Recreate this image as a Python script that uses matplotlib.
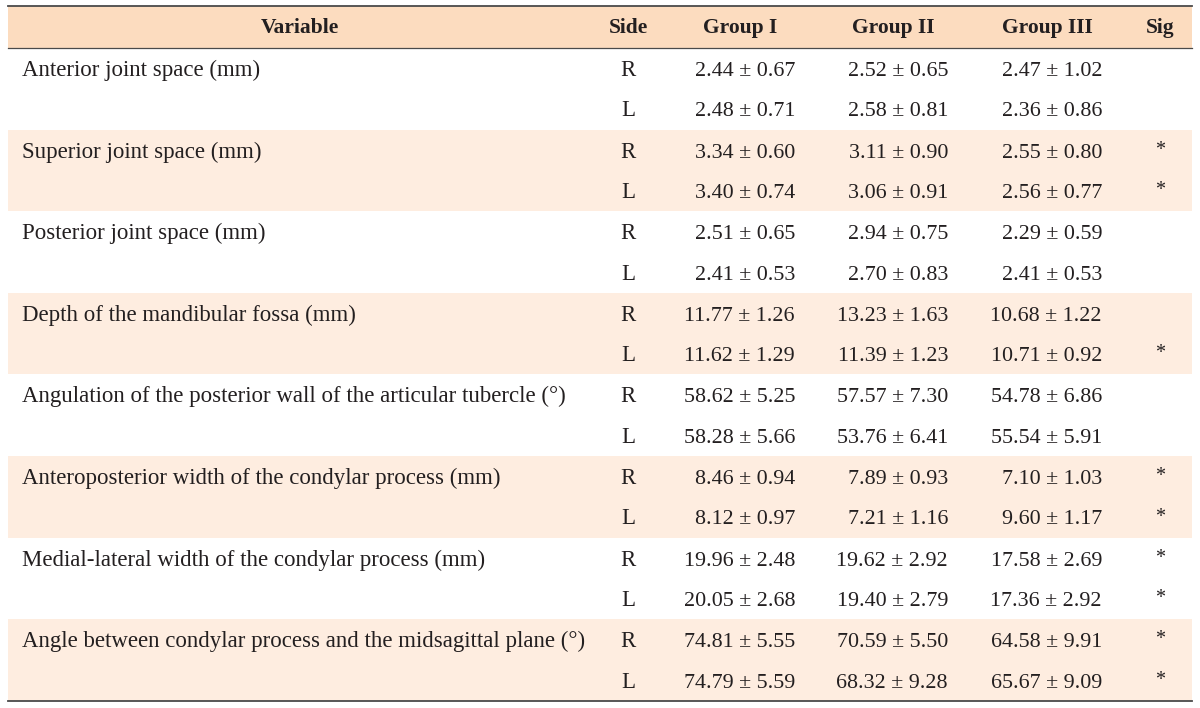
import matplotlib.pyplot as plt
from matplotlib.patches import Rectangle

# data
variables = [
    "Anterior joint space (mm)",
    "Superior joint space (mm)",
    "Posterior joint space (mm)",
    "Depth of the mandibular fossa (mm)",
    "Angulation of the posterior wall of the articular tubercle (°)",
    "Anteroposterior width of the condylar process (mm)",
    "Medial-lateral width of the condylar process (mm)",
    "Angle between condylar process and the midsagittal plane (°)",
]
sides = ["R", "L"]
headers = ["Variable", "Side", "Group I", "Group II", "Group III", "Sig"]

g1_mean = [2.44, 2.48, 3.34, 3.40, 2.51, 2.41, 11.77, 11.62, 58.62, 58.28, 8.46, 8.12, 19.96, 20.05, 74.81, 74.79]
g1_sd = [0.67, 0.71, 0.60, 0.74, 0.65, 0.53, 1.26, 1.29, 5.25, 5.66, 0.94, 0.97, 2.48, 2.68, 5.55, 5.59]
g2_mean = [2.52, 2.58, 3.11, 3.06, 2.94, 2.70, 13.23, 11.39, 57.57, 53.76, 7.89, 7.21, 19.62, 19.40, 70.59, 68.32]
g2_sd = [0.65, 0.81, 0.90, 0.91, 0.75, 0.83, 1.63, 1.23, 7.30, 6.41, 0.93, 1.16, 2.92, 2.79, 5.50, 9.28]
g3_mean = [2.47, 2.36, 2.55, 2.56, 2.29, 2.41, 10.68, 10.71, 54.78, 55.54, 7.10, 9.60, 17.58, 17.36, 64.58, 65.67]
g3_sd = [1.02, 0.86, 0.80, 0.77, 0.59, 0.53, 1.22, 0.92, 6.86, 5.91, 1.03, 1.17, 2.69, 2.92, 9.91, 9.09]
sig = ["", "", "*", "*", "", "", "", "*", "", "", "*", "*", "*", "*", "*", "*"]

# layout (pixels)
W, H = 1200, 708
X0, X1 = 8, 1192
TOP, HEAD_BOT = 5.5, 48
PAIR_H = 81.6
HEAD_COL = "#fcdcbf"
STRIPE_COL = "#feede0"
TXT = "#231f20"
LINE = "#4a4a4a"
FS = 16.5
FS_VAL = 15.8
FS_HEAD = 15.5

plt.rcParams["font.family"] = ["Liberation Serif", "DejaVu Serif"]

fig = plt.figure(figsize=(W / 100, H / 100), dpi=100)
ax = fig.add_axes([0, 0, 1, 1])
ax.set_xlim(0, W)
ax.set_ylim(H, 0)
ax.axis("off")

ax.add_patch(Rectangle((X0, TOP), X1 - X0, HEAD_BOT - TOP, color=HEAD_COL, lw=0))
for k in range(len(variables)):
    if k % 2 == 1:
        ax.add_patch(Rectangle((X0, HEAD_BOT + k * PAIR_H), X1 - X0, PAIR_H,
                               color=STRIPE_COL, lw=0))

bottom = HEAD_BOT + len(variables) * PAIR_H
ax.plot([X0, X1], [TOP, TOP], color=LINE, lw=1.3)
ax.plot([X0, X1], [HEAD_BOT, HEAD_BOT], color=LINE, lw=0.9)
ax.plot([X0, X1], [bottom, bottom], color=LINE, lw=1.3)

# header
head_x = [300, 628, 740, 893, 1047, 1160]
for hx, h in zip(head_x, headers):
    ax.text(hx, 33, h, ha="center", va="baseline", fontsize=FS_HEAD,
            fontweight="bold", color=TXT)

# body
val_right = [795, 948, 1102]
groups = [(g1_mean, g1_sd), (g2_mean, g2_sd), (g3_mean, g3_sd)]
for k, var in enumerate(variables):
    y_top = HEAD_BOT + k * PAIR_H
    ax.text(22, y_top + 28, var, ha="left", va="baseline", fontsize=FS, color=TXT)
    for j, s in enumerate(sides):
        i = 2 * k + j
        y = y_top + 28 + 40.5 * j
        ax.text(628, y, s, ha="center", va="baseline", fontsize=FS, color=TXT)
        for xr, (means, sds) in zip(val_right, groups):
            ax.text(xr, y, f"{means[i]:.2f} ± {sds[i]:.2f}", ha="right", va="baseline",
                    fontsize=FS_VAL, color=TXT)
        if sig[i]:
            ax.text(1160, y - 3, sig[i], ha="center", va="baseline", fontsize=FS - 2, color=TXT)

fig.savefig("out.png", dpi=100)
